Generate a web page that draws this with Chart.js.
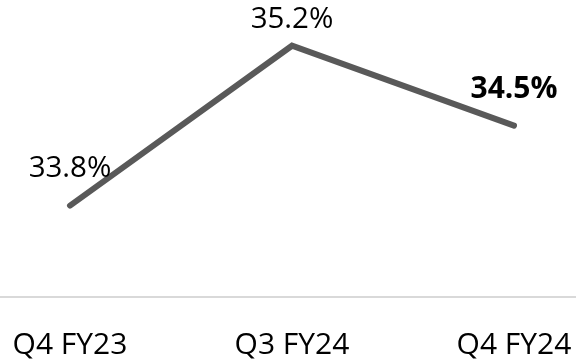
<!DOCTYPE html>
<html>
<head>
<meta charset="utf-8">
<script src="https://cdn.jsdelivr.net/npm/chart.js@4/dist/chart.umd.min.js"></script>
<style>
  html, body { margin: 0; padding: 0; background: #ffffff; overflow: hidden; }
  body { width: 576px; height: 362px; position: relative; }
  #wrap { position: absolute; left: -41px; top: 0; width: 666px; height: 393px; }
</style>
</head>
<body>
<div id="wrap"><canvas id="c" width="666" height="393"></canvas></div>
<script>
const categories = ["Q4 FY23", "Q3 FY24", "Q4 FY24"];
const marginValues = [33.8, 35.2, 34.5];
const valueLabels = ["33.8%", "35.2%", "34.5%"];

const labelStyle = {
  offsets: [37, 26, 36],
  bold: [false, false, true]
};

const dataLabelPlugin = {
  id: 'dataLabels',
  afterDatasetsDraw(chart) {
    const meta = chart.getDatasetMeta(0);
    const ctx = chart.ctx;
    ctx.save();
    ctx.fillStyle = '#000000';
    ctx.textAlign = 'center';
    ctx.textBaseline = 'middle';
    meta.data.forEach((pt, i) => {
      ctx.font = labelStyle.bold[i] ? 'bold 30px "Open Sans"' : '29.5px "Open Sans"';
      ctx.fillText(valueLabels[i], pt.x, pt.y - labelStyle.offsets[i]);
    });
    ctx.restore();
  }
};

new Chart(document.getElementById('c'), {
  type: 'line',
  data: {
    labels: categories,
    datasets: [{
      data: marginValues,
      borderColor: '#595959',
      borderWidth: 6,
      borderCapStyle: 'round',
      borderJoinStyle: 'miter',
      pointRadius: 0,
      tension: 0,
      fill: false,
      clip: false
    }]
  },
  options: {
    responsive: false,
    animation: false,
    events: [],
    layout: { padding: 0 },
    plugins: { legend: { display: false }, tooltip: { enabled: false } },
    scales: {
      x: {
        type: 'category',
        offset: true,
        grid: { display: false, drawTicks: false },
        border: { display: true, color: '#d9d9d9', width: 2 },
        ticks: {
          color: '#000000',
          padding: 30,
          maxRotation: 0,
          font: { family: '"Open Sans"', size: 30 }
        }
      },
      y: {
        display: false,
        min: 33,
        max: 35.6
      }
    }
  },
  plugins: [dataLabelPlugin]
});
</script>
</body>
</html>
